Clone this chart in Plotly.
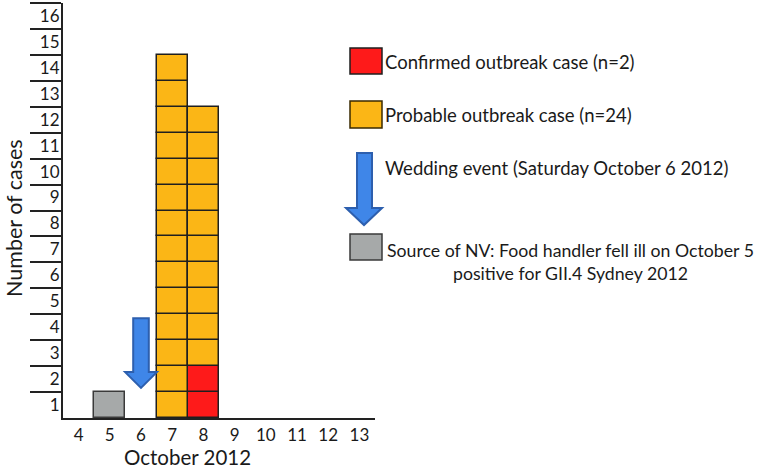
import plotly.graph_objects as go

# ---- data ----
days = [4, 5, 6, 7, 8, 9, 10, 11, 12, 13]
confirmed = [0, 0, 0, 0, 2, 0, 0, 0, 0, 0]
probable = [0, 0, 0, 14, 10, 0, 0, 0, 0, 0]
source = [0, 1, 0, 0, 0, 0, 0, 0, 0, 0]
wedding_day = 6
y_ticks = list(range(1, 17))
x_ticks = [str(d) for d in days]

legend_labels = [
    "Confirmed outbreak case (n=2)",
    "Probable outbreak case (n=24)",
    "Wedding event (Saturday October 6 2012)",
    "Source of NV: Food handler fell ill on October 5<br>positive for GII.4 Sydney 2012",
]

# ---- style ----
W, H = 767, 470
FONT = "Lato"
TXT = "#1a1a1a"
C_CONF = "#fe1a1a"
C_PROB = "#fbb616"
C_SRC = "#a6a9a9"
EDGE = "#1f1f1f"
ARROW_FILL = "#3f86e8"
ARROW_EDGE = "#2d5fae"

def px(x):
    return x / W

def py(y):
    return (H - y) / H

fig = go.Figure()

def add_cells(values, base_values, color, edge):
    xs, bases = [], []
    for d, v, b in zip(days, values, base_values):
        for k in range(v):
            xs.append(d)
            bases.append(b + k)
    if xs:
        fig.add_trace(go.Bar(
            x=xs, y=[1] * len(xs), base=bases, width=1,
            marker=dict(color=color, line=dict(color=edge, width=1.5)),
            showlegend=False, hoverinfo="skip"))

zeros = [0] * len(days)
add_cells(source, zeros, C_SRC, "#3a3a3a")
add_cells(confirmed, zeros, C_CONF, EDGE)
add_cells(probable, confirmed, C_PROB, EDGE)

# wedding arrow in plot (data coordinates)
sx, hx = 0.25, 0.51
top, neck, tip = 3.85, 1.77, 1.16
d = wedding_day
arrow_path = (f"M {d-sx},{top} L {d+sx},{top} L {d+sx},{neck} L {d+hx},{neck} "
              f"L {d},{tip} L {d-hx},{neck} L {d-sx},{neck} Z")
fig.add_shape(type="path", path=arrow_path, xref="x", yref="y",
              fillcolor=ARROW_FILL, line=dict(color=ARROW_EDGE, width=2))

# ---- custom legend ----
boxes = [(48, 74, C_CONF, EDGE), (101, 128, C_PROB, "#3a2a00"), (234, 260, C_SRC, "#3a3a3a")]
for y0, y1, c, e in boxes:
    fig.add_shape(type="rect", xref="paper", yref="paper",
                  x0=px(350), x1=px(382), y0=py(y1), y1=py(y0),
                  fillcolor=c, line=dict(color=e, width=1.5))

lx0, lx1, hx0, hx1 = 357, 372, 346, 382
ltop, lneck, ltip = 153, 208, 225
cx = (hx0 + hx1) / 2
lpath = (f"M {px(lx0)},{py(ltop)} L {px(lx1)},{py(ltop)} L {px(lx1)},{py(lneck)} "
         f"L {px(hx1)},{py(lneck)} L {px(cx)},{py(ltip)} L {px(hx0)},{py(lneck)} "
         f"L {px(lx0)},{py(lneck)} Z")
fig.add_shape(type="path", path=lpath, xref="paper", yref="paper",
              fillcolor=ARROW_FILL, line=dict(color=ARROW_EDGE, width=2))

text_pos = [(383, 62, "left", 18.5), (383, 115, "left", 18.5),
            (383, 168, "left", 18.5), (570, 262, "center", 17.7)]
for (x, y, anc, fs), lab in zip(text_pos, legend_labels):
    fig.add_annotation(x=px(x), y=py(y), xref="paper", yref="paper",
                       text=lab, showarrow=False, xanchor=anc, yanchor="middle",
                       align="center", font=dict(family=FONT, size=fs, color=TXT))

# axis titles
fig.add_annotation(x=px(187), y=py(457), xref="paper", yref="paper",
                   text="October 2012", showarrow=False, xanchor="center",
                   yanchor="middle", font=dict(family=FONT, size=20.5, color=TXT))
fig.add_annotation(x=px(14), y=py(218), xref="paper", yref="paper",
                   text="Number of cases", showarrow=False, textangle=-90,
                   xanchor="center", yanchor="middle",
                   font=dict(family=FONT, size=21.5, color=TXT))

fig.update_layout(
    width=W, height=H, margin=dict(l=0, r=0, t=0, b=0),
    plot_bgcolor="white", paper_bgcolor="white", barmode="overlay",
    bargap=0,
    xaxis=dict(domain=[px(63), px(375)], range=[3.5, 13.5],
               tickmode="array", tickvals=days, ticktext=x_ticks,
               ticks="", showline=True, linecolor="#222", linewidth=2,
               showgrid=False, zeroline=False, ticklabelstandoff=1,
               tickfont=dict(family=FONT, size=17, color=TXT)),
    yaxis=dict(domain=[py(418), py(3)], range=[0, 16],
               tickmode="array", tickvals=[v - 0.5 for v in y_ticks],
               ticktext=[str(v) for v in y_ticks], ticks="",
               showline=True, linecolor="#222", linewidth=2,
               showgrid=False, zeroline=False, ticklabelstandoff=-2,
               tickfont=dict(family=FONT, size=17, color=TXT),
               minor=dict(tickmode="array", tickvals=y_ticks, ticks="outside",
                          ticklen=31, tickwidth=2, tickcolor="#222", showgrid=False)),
)

fig.write_html("out.html", config={"displayModeBar": False},
               post_script="document.body.style.margin='0';")
